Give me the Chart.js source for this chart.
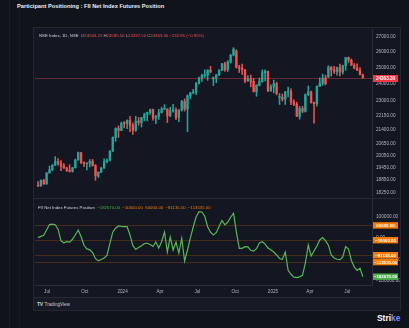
<!DOCTYPE html>
<html>
<head>
<meta charset="utf-8">
<script src="https://cdn.jsdelivr.net/npm/chart.js@4.4.0/dist/chart.umd.min.js"></script>
<style>
  html, body { margin: 0; padding: 0; background: #11131b; }
  #page { position: relative; width: 409px; height: 328px; overflow: hidden; background: #11131b; font-family: "Liberation Sans", Arial, sans-serif; }
  .rail { position: absolute; left: 9px; top: 0; width: 9px; height: 328px; border-left: 1px solid #181b25; border-right: 1px solid #181b25; }
  .title { position: absolute; left: 17px; top: 3px; color: #eceef3; font-weight: bold; font-size: 5.7px; white-space: nowrap; }
  .frame { position: absolute; left: 33px; top: 27px; width: 368px; height: 284px; background: #141722; border: 1px solid #232734; box-sizing: border-box; }
  .hline { position: absolute; left: 34px; width: 366px; height: 1px; background: #262a36; }
  .footer { position: absolute; left: 34px; top: 298px; width: 366px; height: 12px; background: #171a25; color: #c9ccd4; font-size: 4.6px; line-height: 12px; white-space: nowrap; }
  .footer b { display: inline-block; margin: 0 2px 0 3px; font-size: 5px; letter-spacing: -0.4px; }
  .brand { position: absolute; left: 377px; top: 313px; color: #ffffff; font-weight: bold; font-size: 8.4px; white-space: nowrap; }
  .brand span { color: #6f8cff; }
  canvas { position: absolute; }
</style>
</head>
<body>
<div id="page">
  <div class="rail"></div>
  <div class="title">Participant Positioning : FII Net Index Futures Position</div>
  <div class="frame"></div>
  <canvas id="priceChart" width="365" height="168" style="left:35px; top:29px;"></canvas>
  <div class="hline" style="top:198px;"></div>
  <canvas id="fiiChart" width="365" height="98" style="left:35px; top:199px;"></canvas>
  <div class="hline" style="top:297px;"></div>
  <div class="footer"><b>TV</b>TradingView</div>
  <div class="brand">Stri<span>ke</span></div>
</div>
<script>
// weekly candles, first bar = week of 9 Jun 2023, last bar = 8 Aug 2025 session
const firstBarDate = "2023-06-09";
const opens = [18612, 18563, 18826, 18665, 19189, 19332, 19564, 19745, 19646, 19517,
  19428, 19310, 19265, 19435, 19820, 20192, 19674, 19638, 19654, 19751,
  19542, 19047, 19231, 19425, 19732, 19795, 20268, 20970, 21457, 21349,
  21731, 21711, 21895, 21622, 21353, 21854, 21783, 22041, 22213, 22339,
  22494, 22023, 22097, 22327, 22514, 22519, 22147, 22420, 22476, 22055,
  22466, 22957, 22531, 23290, 23466, 23501, 24010, 24324, 24502, 24531,
  24834, 24302, 24367, 24541, 24823, 25236, 24852, 25357, 25791, 26061,
  25015, 24964, 24854, 24181, 24304, 24148, 23533, 23907, 24131, 24677,
  24768, 23588, 23813, 24005, 23195, 23203, 23092, 23508, 23560, 22929,
  22796, 22125, 22552, 22397, 23350, 23519, 22904, 22829, 23852, 24039,
  24347, 24420, 25020, 24853, 24751, 25003, 24718, 25112, 25638, 25461,
  25150, 24968, 24837, 24544.25];
const highs = [18778, 18864, 18887, 19201, 19523, 19595, 19991, 19887, 19795, 19645,
  19465, 19584, 19458, 19867, 20222, 20196, 19726, 19660, 19843, 19849,
  19593, 19233, 19464, 19876, 19875, 20292, 21006, 21493, 21593, 21801,
  21834, 21928, 22124, 21750, 22126, 22053, 22068, 22297, 22353, 22526,
  22526, 22180, 22516, 22619, 22775, 22546, 22625, 22794, 22588, 22503,
  23026, 23110, 23338, 23490, 23667, 24087, 24401, 24592, 24854, 24861,
  25078, 24419, 24563, 24867, 25268, 25333, 25433, 25849, 26277, 26134,
  25143, 25212, 24882, 24498, 24538, 24336, 23956, 24354, 24857, 24857,
  24781, 23939, 24226, 24089, 23426, 23391, 23546, 23807, 23694, 23050,
  22922, 22676, 22677, 23402, 23869, 23565, 22923, 23873, 24365, 24589,
  24526, 25116, 25070, 25079, 25030, 25222, 25137, 25654, 25669, 25548,
  25255, 25242, 25000, 24585.5];
const lows = [18554, 18556, 18647, 18647, 19174, 19300, 19550, 19563, 19296, 19412,
  19257, 19230, 19223, 19432, 19817, 19657, 19492, 19333, 19480, 19518,
  18837, 18974, 19200, 19401, 19676, 19771, 20250, 20770, 20976, 21330,
  21500, 21448, 21285, 21137, 21300, 21629, 21530, 21875, 21860, 22224,
  21905, 21710, 21947, 22304, 22503, 21777, 22100, 22348, 21932, 21821,
  22409, 22417, 21281, 23102, 23398, 23351, 23992, 24141, 24390, 24211,
  24687, 23893, 24073, 24500, 24800, 24754, 24753, 25285, 25739, 24966,
  24694, 24567, 24074, 24140, 23816, 23509, 23263, 23873, 24100, 24180,
  23538, 23550, 23460, 23344, 22787, 22981, 22786, 23222, 22774, 22725,
  22105, 21964, 22315, 22353, 23300, 22857, 21744, 22695, 23847, 23908,
  23936, 24378, 24462, 24640, 24526, 24473, 24592, 24824, 25331, 25129,
  24918, 24806, 24535, 24337.5];
const closes = [18563, 18826, 18665, 19189, 19332, 19564, 19745, 19646, 19517, 19428,
  19310, 19265, 19435, 19820, 20192, 19674, 19638, 19654, 19751, 19542,
  19047, 19231, 19425, 19732, 19795, 20268, 20970, 21457, 21349, 21731,
  21711, 21895, 21622, 21353, 21854, 21783, 22041, 22213, 22339, 22494,
  22023, 22097, 22327, 22514, 22519, 22147, 22420, 22476, 22055, 22466,
  22957, 22531, 23290, 23466, 23501, 24010, 24324, 24502, 24531, 24834,
  24718, 24367, 24541, 24823, 25236, 24852, 25357, 25791, 26179, 25015,
  24964, 24854, 24181, 24304, 24148, 23533, 23907, 24131, 24677, 24768,
  23588, 23813, 24005, 23432, 23203, 23092, 23508, 23560, 22929, 22796,
  22125, 22552, 22397, 23350, 23519, 22904, 22829, 23852, 24039, 24347,
  24008, 25020, 24853, 24751, 25003, 24718, 25112, 25638, 25461, 25150,
  24968, 24837, 24565, 24363.3];
const prevSessionClose = 24596.15;

// FII net index futures position, one reading per bar
const fiiNet = [2000, 8000, 13000, 38000, 64000, 66000, 63500, 41300, -13600, -22200,
  -17000, -19300, -5600, 15700, 38000, 6200, -34000, -51000, -55800, -68600,
  -97400, -107900, -101200, -94100, -82300, -26400, 28000, 47000, 57400, 55500,
  54000, 54000, 14800, -35900, -53900, -44900, -35900, -26400, -24500, -30200,
  -39700, -18400, -46800, -17000, 29000, -65700, 5300, -56300, -18400, -70500,
  -900, -108300, -56300, 600, 52700, 100000, 125100, 123700, 103300, 53600,
  28000, 14800, 25700, 56000, 83400, 63100, 75400, 98600, 117500, 29000,
  -48200, -48200, -40600, -41100, -57700, -61900, -50100, -22600, -17000, -28300,
  -47300, -56700, -66200, -79900, -96500, -101200, -65700, -152800, -171300, -185000,
  -187400, -183600, -176500, -117800, -32600, -84700, -61000, -37300, -8900, 2900,
  -12200, -33500, -79900, -94100, -100300, -101700, -89400, -39700, -51500, -106000,
  -136800, -153300, -142900, -182670];

// horizontal reference levels on the FII pane
const fiiLevels = [-10000, 60000, -81135, -113535];

// axis ticks
const priceTicks = [27000, 26000, 25000, 24000, 23000, 22150, 21400, 20650, 20050, 19450, 18850, 18250];
const fiiTicks = [100000, 0, -100000, -200000];
const timeTickLabels = ["Jul", "Oct", "2024", "Apr", "Jul", "Oct", "2025", "Apr", "Jul"];
const timeTickDates = ["2023-07-01", "2023-10-01", "2024-01-01", "2024-04-01", "2024-07-01",
  "2024-10-01", "2025-01-01", "2025-04-01", "2025-07-01"];

const UP = "#26a69a";
const DOWN = "#ef5350";
const AXIS_TEXT = "#b2b5be";
const FONT = '"Liberation Sans", Arial, sans-serif';
const WEEK = 7 * 86400000;

function barIndexOf(dateStr) {
  return (Date.parse(dateStr) - Date.parse(firstBarDate)) / WEEK;
}

const timeTicks = timeTickDates.map(barIndexOf);
const xRange = { min: -1.04, max: 116.17 };

const candleColors = closes.map((c, i) => (c >= opens[i] ? UP : DOWN));
const wickData = closes.map((c, i) => ({ x: i, y: [lows[i], highs[i]] }));
const bodyData = closes.map((c, i) => ({ x: i, y: [opens[i], c] }));

// right price axis: fixed width, no extra inset above/below the pane
function fixedAxisWidth(scale) {
  scale.width = 28;
  scale.paddingTop = 0;
  scale.paddingBottom = 0;
}

// price pane: legend, last price line and label
const pricePane = {
  id: "pricePane",
  afterDraw(chart) {
    const { ctx, chartArea, scales } = chart;
    const last = closes.length - 1;
    const lastClose = closes[last];
    const y = Math.round(scales.y.getPixelForValue(lastClose)) + 0.5;
    ctx.save();
    ctx.strokeStyle = "rgba(239,83,80,0.35)";
    ctx.lineWidth = 1;
    ctx.beginPath();
    ctx.moveTo(chartArea.left, y);
    ctx.lineTo(chartArea.right, y);
    ctx.stroke();

    ctx.fillStyle = "#f23645";
    ctx.fillRect(chartArea.right + 1, y - 3.5, 25, 7);
    ctx.fillStyle = "#ffffff";
    ctx.font = "bold 4.6px " + FONT;
    ctx.textAlign = "center";
    ctx.textBaseline = "middle";
    ctx.fillText(lastClose.toFixed(2), chartArea.right + 13.5, y + 0.3);

    // legend row
    const change = lastClose - prevSessionClose;
    const pct = change / prevSessionClose * 100;
    const valColor = change >= 0 ? UP : DOWN;
    const parts = [
      ["NSE Index, 1D, NSE  ", "#d1d4dc"],
      ["O", "#b2b5be"], [opens[last].toFixed(2) + " ", valColor],
      ["H", "#b2b5be"], [highs[last].toFixed(2) + " ", valColor],
      ["L", "#b2b5be"], [lows[last].toFixed(2) + " ", valColor],
      ["C", "#b2b5be"], [lastClose.toFixed(2) + " ", valColor],
      [change.toFixed(2).replace("-", "\u2212") + " (" + pct.toFixed(2).replace("-", "\u2212") + "%)", valColor]
    ];
    ctx.font = "4.3px " + FONT;
    ctx.textAlign = "left";
    let x = chartArea.left + 4;
    parts.forEach(([t, c]) => {
      ctx.fillStyle = c;
      ctx.fillText(t, x, 6.5);
      x += ctx.measureText(t).width;
    });
    ctx.restore();
  }
};

// FII pane: reference levels, axis labels and legend
const fiiPane = {
  id: "fiiPane",
  beforeDatasetsDraw(chart) {
    const { ctx, chartArea, scales } = chart;
    ctx.save();
    ctx.strokeStyle = "rgba(245,124,0,0.22)";
    ctx.lineWidth = 1;
    fiiLevels.forEach(v => {
      const y = Math.round(scales.y.getPixelForValue(v)) + 0.5;
      ctx.beginPath();
      ctx.moveTo(chartArea.left, y);
      ctx.lineTo(chartArea.right, y);
      ctx.stroke();
    });
    ctx.restore();
  },
  afterDraw(chart) {
    const { ctx, chartArea, scales } = chart;
    const last = fiiNet[fiiNet.length - 1];
    ctx.save();
    ctx.font = "bold 4.4px " + FONT;
    ctx.textAlign = "center";
    ctx.textBaseline = "middle";
    const box = (v, bg) => {
      const y = scales.y.getPixelForValue(v);
      ctx.fillStyle = bg;
      ctx.fillRect(chartArea.right + 1, y - 3.2, 25, 6.4);
      ctx.fillStyle = "#ffffff";
      ctx.fillText(v.toFixed(2).replace("-", "\u2212"), chartArea.right + 13.5, y + 0.3);
    };
    fiiLevels.forEach(v => box(v, "#f57c00"));
    box(last, "#4caf50");

    // legend row
    const parts = [["FII Net Index Futures Position  ", "#d1d4dc"],
      [last.toFixed(2).replace("-", "\u2212") + "  ", "#4caf50"]];
    fiiLevels.forEach(v => parts.push([v.toFixed(2).replace("-", "\u2212") + "  ", "#f57c00"]));
    ctx.font = "4.3px " + FONT;
    ctx.textAlign = "left";
    let x = chartArea.left + 3;
    parts.forEach(([t, c]) => {
      ctx.fillStyle = c;
      ctx.fillText(t, x, 8.5);
      x += ctx.measureText(t).width;
    });
    ctx.restore();
  }
};

new Chart(document.getElementById("priceChart"), {
  type: "bar",
  data: {
    datasets: [{
      data: wickData,
      backgroundColor: candleColors,
      barThickness: 0.9,
      grouped: false,
      minBarLength: 1
    }, {
      data: bodyData,
      backgroundColor: candleColors,
      barThickness: 1.7,
      grouped: false,
      minBarLength: 1
    }]
  },
  options: {
    responsive: false,
    animation: false,
    layout: { padding: 0 },
    plugins: { legend: { display: false }, tooltip: { enabled: false } },
    scales: {
      x: { type: "linear", offset: false, min: xRange.min, max: xRange.max, display: false },
      y: {
        type: "logarithmic",
        position: "right",
        min: 18063,
        max: 27540,
        afterFit: fixedAxisWidth,
        afterBuildTicks: s => { s.ticks = priceTicks.map(v => ({ value: v })); },
        grid: { display: false, drawTicks: false },
        border: { display: true, color: "#2a2e39" },
        ticks: {
          color: AXIS_TEXT,
          padding: 4,
          font: { size: 4.7, family: FONT },
          callback: v => Number(v).toFixed(2)
        }
      }
    }
  },
  plugins: [pricePane]
});

new Chart(document.getElementById("fiiChart"), {
  type: "line",
  data: {
    datasets: [{
      data: fiiNet.map((v, i) => ({ x: i, y: v })),
      borderColor: "#56b856",
      borderWidth: 1.2,
      pointRadius: 0,
      tension: 0
    }]
  },
  options: {
    responsive: false,
    animation: false,
    layout: { padding: 0 },
    plugins: { legend: { display: false }, tooltip: { enabled: false } },
    scales: {
      x: {
        type: "linear",
        min: xRange.min,
        max: xRange.max,
        afterFit: s => { s.height = 12; s.paddingLeft = 0; s.paddingRight = 0; },
        afterBuildTicks: s => { s.ticks = timeTicks.map(v => ({ value: v })); },
        grid: { display: false, drawTicks: false },
        border: { display: true, color: "#2a2e39" },
        ticks: {
          color: AXIS_TEXT,
          padding: 4,
          maxRotation: 0,
          autoSkip: false,
          font: { size: 4.6, family: FONT },
          callback: (v, idx) => timeTickLabels[idx]
        }
      },
      y: {
        type: "linear",
        position: "right",
        min: -222000,
        max: 185000,
        afterFit: fixedAxisWidth,
        afterBuildTicks: s => { s.ticks = fiiTicks.map(v => ({ value: v })); },
        grid: { display: false, drawTicks: false },
        border: { display: true, color: "#2a2e39" },
        ticks: {
          color: AXIS_TEXT,
          padding: 4,
          font: { size: 4.7, family: FONT },
          callback: v => Number(v).toFixed(2).replace("-", "\u2212")
        }
      }
    }
  },
  plugins: [fiiPane]
});
</script>
</body>
</html>
